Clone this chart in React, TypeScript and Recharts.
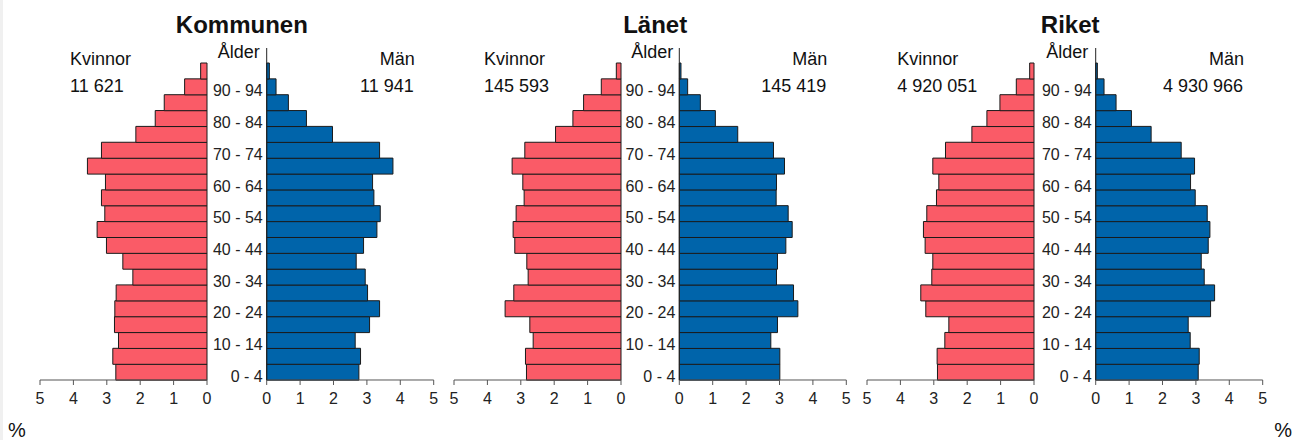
import { BarChart, Bar, XAxis, YAxis } from 'recharts';

const ages = [
    '0 - 4', '5 - 9', '10 - 14', '15 - 19', '20 - 24', '25 - 29', '30 - 34', '35 - 39', '40 - 44', '45 - 49',
    '50 - 54', '55 - 59', '60 - 64', '65 - 69', '70 - 74', '75 - 79', '80 - 84', '85 - 89', '90 - 94', '95 -',
];

const regions = ['Kommunen', 'Länet', 'Riket'];
const womenTotals = ['11 621', '145 593', '4 920 051'];
const menTotals = ['11 941', '145 419', '4 930 966'];

// andel i procent per åldersgrupp, 0-4 först
const kommunenWomen = [2.73, 2.82, 2.65, 2.77, 2.76, 2.72, 2.22, 2.52, 3.01, 3.29, 3.06, 3.16, 3.04, 3.58, 3.16, 2.13, 1.55, 1.28, 0.67, 0.19];
const kommunenMen = [2.76, 2.81, 2.65, 3.08, 3.38, 3.02, 2.95, 2.68, 2.9, 3.3, 3.4, 3.21, 3.17, 3.78, 3.38, 1.97, 1.19, 0.65, 0.28, 0.08];
const lanetWomen = [2.83, 2.86, 2.63, 2.73, 3.47, 3.21, 2.78, 2.82, 3.18, 3.23, 3.14, 2.9, 2.94, 3.26, 2.88, 1.96, 1.44, 1.12, 0.59, 0.14];
const lanetMen = [3.01, 3.01, 2.74, 2.94, 3.55, 3.42, 2.91, 2.94, 3.19, 3.38, 3.26, 2.9, 2.91, 3.15, 2.82, 1.75, 1.08, 0.63, 0.25, 0.05];
const riketWomen = [2.89, 2.9, 2.67, 2.55, 3.24, 3.39, 3.06, 3.03, 3.26, 3.31, 3.21, 2.92, 2.85, 3.03, 2.65, 1.86, 1.41, 1.02, 0.53, 0.13];
const riketMen = [3.07, 3.1, 2.83, 2.77, 3.44, 3.56, 3.25, 3.16, 3.37, 3.42, 3.34, 2.98, 2.84, 2.96, 2.56, 1.66, 1.07, 0.61, 0.25, 0.05];

const womenSeries = [kommunenWomen, lanetWomen, riketWomen];
const menSeries = [kommunenMen, lanetMen, riketMen];
const xTicks = [0, 1, 2, 3, 4, 5];

const FONT = '"Liberation Sans", Arial, sans-serif';
const RED = '#FA5B67';
const BLUE = '#0064AA';
const OUTLINE = '#1a1a1a';

// layout: left edge of women plot and x of men axis for each panel
const panelLayout = [
    { wl: 40, ml: 266.7 },
    { wl: 454, ml: 679.3 },
    { wl: 867.3, ml: 1096 },
];

const PLOT_W = 167;
const PLOT_TOP = 48;
const PLOT_H = 332;
const M = 10;
const X_AXIS_H = 32;

const AgeTick = ({ x, y, payload }: any) => (
    <text x={x} y={y + 4} dy="0.355em" textAnchor="end" fontSize={16} fill="#222" fontFamily={FONT}>
        {payload.value}
    </text>
);

function Pyramid({ idx }: { idx: number }) {
    const { wl, ml } = panelLayout[idx];
    const gap = ml - (wl + PLOT_W);
    const women = ages.map((age, i) => ({ age, value: womenSeries[idx][i] }));
    const men = ages.map((age, i) => ({ age, value: menSeries[idx][i] }));
    const chartH = M + PLOT_H + X_AXIS_H;
    const xAxisProps = {
        type: 'number' as const,
        domain: [0, 5],
        ticks: xTicks,
        height: X_AXIS_H,
        tickSize: 5,
        tickMargin: 8,
        stroke: '#555',
        tick: { fontSize: 16, fill: '#222', fontFamily: FONT },
        interval: 0 as const,
    };
    return (
        <>
            <div style={{ position: 'absolute', left: wl - M, top: PLOT_TOP - M }}>
                <BarChart
                    width={PLOT_W + 2 * M}
                    height={chartH}
                    data={women}
                    layout="vertical"
                    barCategoryGap={0}
                    margin={{ top: M, right: M, bottom: 0, left: M }}
                >
                    <XAxis {...xAxisProps} dataKey="value" reversed />
                    <YAxis
                        type="category"
                        dataKey="age"
                        orientation="right"
                        width={0}
                        reversed
                        tick={false}
                        tickLine={false}
                        stroke="#222"
                        padding={{ top: 15, bottom: 0 }}
                    />
                    <Bar dataKey="value" fill={RED} stroke={OUTLINE} strokeWidth={1} isAnimationActive={false} />
                </BarChart>
            </div>
            <div style={{ position: 'absolute', left: ml - gap - M, top: PLOT_TOP - M }}>
                <BarChart
                    width={gap + PLOT_W + 2 * M}
                    height={chartH}
                    data={men}
                    layout="vertical"
                    barCategoryGap={0}
                    margin={{ top: M, right: M, bottom: 0, left: M }}
                >
                    <XAxis {...xAxisProps} dataKey="value" />
                    <YAxis
                        type="category"
                        dataKey="age"
                        width={gap}
                        reversed
                        interval={1}
                        tickSize={0}
                        tickMargin={4}
                        tickLine={false}
                        tick={<AgeTick />}
                        stroke="#222"
                        padding={{ top: 15, bottom: 0 }}
                    />
                    <Bar dataKey="value" fill={BLUE} stroke={OUTLINE} strokeWidth={1} isAnimationActive={false} />
                </BarChart>
            </div>
        </>
    );
}

function Labels() {
    return (
        <svg width={1293} height={440} style={{ position: 'absolute', left: 0, top: 0 }} fontFamily={FONT}>
            {panelLayout.map(({ wl, ml }, i) => {
                const mid = (wl + PLOT_W + ml) / 2;
                return (
                    <g key={regions[i]} fill="#111">
                        <text x={mid + 5} y={33} textAnchor="middle" fontSize={24} fontWeight="bold">{regions[i]}</text>
                        <text x={mid + 2} y={58} textAnchor="middle" fontSize={18}>Ålder</text>
                        <text x={wl + 30} y={65} fontSize={18}>Kvinnor</text>
                        <text x={wl + 30} y={92} fontSize={18}>{womenTotals[i]}</text>
                        <text x={ml + 148} y={65} textAnchor="end" fontSize={18}>Män</text>
                        <text x={ml + 147} y={92} textAnchor="end" fontSize={18}>{menTotals[i]}</text>
                    </g>
                );
            })}
            <text x={8} y={437} fontSize={20} fill="#111">%</text>
            <text x={1292} y={437} textAnchor="end" fontSize={20} fill="#111">%</text>
        </svg>
    );
}

export default function App() {
    return (
        <div style={{ position: 'fixed', left: 0, top: 0, width: 1293, height: 440, background: '#fff', overflow: 'hidden' }}>
            <div style={{ position: 'absolute', left: 0, top: 0, width: 3, height: 440, background: '#f0f0f0' }} />
            <Labels />
            {panelLayout.map((_, i) => (
                <Pyramid key={regions[i]} idx={i} />
            ))}
        </div>
    );
}
